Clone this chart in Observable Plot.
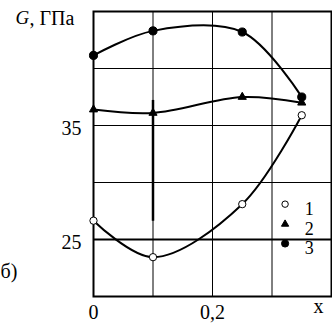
<!DOCTYPE html>
<html><head><meta charset="utf-8">
<script src="https://cdn.jsdelivr.net/npm/d3@7"></script>
<script src="https://cdn.jsdelivr.net/npm/@observablehq/plot@0.6"></script>
<style>html,body{margin:0;padding:0;background:#fff} svg{display:block} svg text{font-family:"Liberation Serif","Times New Roman",serif !important}</style>
</head><body><div id="chart"></div>
<script>
// Data
const xValues = [0, 0.1, 0.25, 0.35];
const series1 = [26.65, 23.45, 28.1, 35.9];   // open circles
const series2 = [36.4, 36.1, 37.5, 37.0];     // triangles
const series3 = [41.15, 43.3, 43.2, 37.5];    // filled circles
const seriesNames = ["1", "2", "3"];

// vertical bar at x = 0.1
const barX = [0.1];
const barLow = 26.6, barHigh = 37.2;

// axes
const xTicks = [0, 0.2];
const xTickLabels = ["0", "0,2"];
const yTicks = [25, 35];
const yTickLabels = ["25", "35"];
const xGrid = [0.1, 0.2, 0.3];
const yGrid = [30, 35, 40];
const yBold = [25];

// legend (in data space)
const legendX = 0.322;
const legendTextX = 0.355;
const legendY = [28.1, 26.35, 24.65];

const rows = [];
[series1, series2, series3].forEach((s, i) =>
  s.forEach((v, j) => rows.push({series: seriesNames[i], x: xValues[j], y: v})));
const legendRows = seriesNames.map((n, i) => ({series: n, x: legendX, tx: legendTextX, y: legendY[i]}));

const FONT = "'Liberation Serif', 'Times New Roman', serif";
const symbolOf = {"1": "circle", "2": "triangle", "3": "circle"};
const fillOf = {"1": "white", "2": "black", "3": "black"};
const rOf = {"1": 2.2, "2": 1.5, "3": 2.7};
const legendROf = {"1": 1.7, "2": 1.2, "3": 2.1};

const chart = Plot.plot({
  width: 332, height: 323,
  marginLeft: 93, marginRight: 1, marginTop: 11, marginBottom: 27,
  x: {domain: [0, 0.4]},
  y: {domain: [20, 45]},
  symbol: {type: "identity"},
  style: {fontFamily: FONT, fontSize: "20px", color: "black", background: "white"},
  marks: [
    Plot.gridX(xGrid, {stroke: "black", strokeOpacity: 1, strokeWidth: 1}),
    Plot.gridY(yGrid, {stroke: "black", strokeOpacity: 1, strokeWidth: 1}),
    Plot.ruleY(yBold, {stroke: "black", strokeWidth: 2}),
    Plot.frame({stroke: "black", strokeWidth: 2}),
    Plot.axisY(yTicks, {tickSize: 0, tickPadding: 12, dy: 3, fontSize: 20, fontFamily: FONT, tickFormat: (d) => yTickLabels[yTicks.indexOf(d)], label: null}),
    Plot.axisX(xTicks, {tickSize: 0, tickPadding: 8, fontSize: 20, fontFamily: FONT, tickFormat: (d) => xTickLabels[xTicks.indexOf(d)], label: null}),
    Plot.ruleX(barX, {y1: barLow, y2: barHigh, stroke: "black", strokeWidth: 2.5}),
    Plot.line(rows, {x: "x", y: "y", z: "series", curve: "catmull-rom", stroke: "black", strokeWidth: 2}),
    Plot.dot(rows, {x: "x", y: "y", symbol: (d) => symbolOf[d.series], r: (d) => rOf[d.series], fill: (d) => fillOf[d.series], stroke: "black", strokeWidth: 1}),
    // legend
    Plot.dot(legendRows, {x: "x", y: "y", symbol: (d) => symbolOf[d.series], r: (d) => legendROf[d.series], fill: (d) => fillOf[d.series], stroke: "black", strokeWidth: 1}),
    Plot.text(legendRows, {x: "tx", y: "y", text: "series", textAnchor: "start", dy: 5, fontSize: 18, fontFamily: FONT, fill: "black"}),
    // titles
    Plot.text(["G"], {frameAnchor: "top-left", dx: -78, dy: -1, textAnchor: "start", fontStyle: "italic", fontSize: 19, fontFamily: FONT, fill: "black"}),
    Plot.text([", ГПа"], {frameAnchor: "top-left", dx: -64, dy: -1, textAnchor: "start", fontSize: 20, fontFamily: FONT, fill: "black"}),
    Plot.text(["x"], {frameAnchor: "bottom-right", dx: -8, dy: 16, textAnchor: "end", fontSize: 20, fontFamily: FONT, fill: "black"}),
    Plot.text(["б)"], {frameAnchor: "bottom-left", dx: -93, dy: -19, textAnchor: "start", fontSize: 20, fontFamily: FONT, fill: "black"})
  ]
});
document.getElementById("chart").appendChild(chart);
</script>
</body></html>
